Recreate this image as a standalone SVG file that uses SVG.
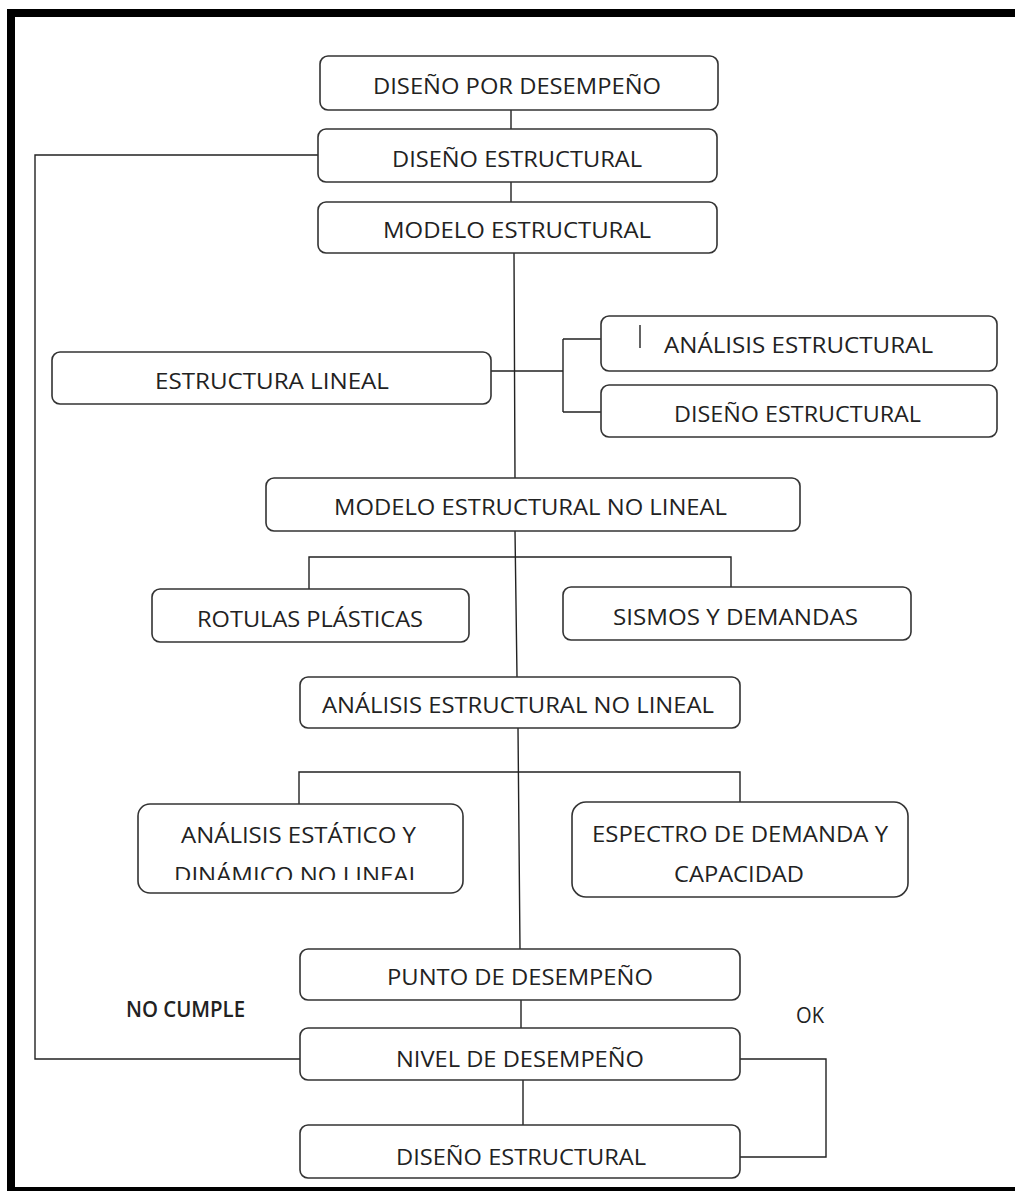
<svg xmlns="http://www.w3.org/2000/svg" width="1015" height="1191" viewBox="0 0 1015 1191">
<style>
.box{fill:#fff;stroke:#333;stroke-width:1.6}
.t{font-family:"Open Sans","Liberation Sans",sans-serif;font-size:22px;fill:#222}
.c{fill:none;stroke:#222;stroke-width:1.4}
.brd{fill:#000}
</style>
<defs>
<clipPath id="clipEst"><rect x="138" y="804" width="325" height="76"/></clipPath>
</defs>
<g id="frame">
<rect class="brd" x="7" y="9" width="1008" height="8"/>
<rect class="brd" x="7" y="9" width="8" height="1182"/>
<rect class="brd" x="7" y="1187" width="1008" height="4"/>
</g>
<g id="connectors">
<path class="c" d="M511 110V129M511 182V202M514 253L515 478M515 531L517 677M518 728L520 949M521 1000V1028M523 1080V1125"/>
<path class="c" d="M300 1059H35V155H318"/>
<path class="c" d="M491 371H563M563 339V412M563 339H601M563 412H601"/>
<path class="c" d="M309 589V557H731V587"/>
<path class="c" d="M299 804V772H740V802"/>
<path class="c" d="M740 1059H826V1157H740"/>
</g>
<g id="n1"><rect class="box" x="320" y="56" width="398" height="54" rx="8"/><text class="t" x="373" y="94" textLength="288" lengthAdjust="spacingAndGlyphs">DISEÑO POR DESEMPEÑO</text></g>
<g id="n2"><rect class="box" x="318" y="129" width="399" height="53" rx="8"/><text class="t" x="392" y="167" textLength="250" lengthAdjust="spacingAndGlyphs">DISEÑO ESTRUCTURAL</text></g>
<g id="n3"><rect class="box" x="318" y="202" width="399" height="51" rx="8"/><text class="t" x="383" y="238" textLength="268" lengthAdjust="spacingAndGlyphs">MODELO ESTRUCTURAL</text></g>
<g id="n4"><rect class="box" x="52" y="352" width="439" height="52" rx="8"/><text class="t" x="155" y="389" textLength="234" lengthAdjust="spacingAndGlyphs">ESTRUCTURA LINEAL</text></g>
<g id="n5"><rect class="box" x="601" y="316" width="396" height="55" rx="8"/><line class="c" x1="640" y1="325" x2="640" y2="348"/><text class="t" x="664" y="353" textLength="269" lengthAdjust="spacingAndGlyphs">ANÁLISIS ESTRUCTURAL</text></g>
<g id="n6"><rect class="box" x="601" y="385" width="396" height="52" rx="8"/><text class="t" x="674" y="422" textLength="247" lengthAdjust="spacingAndGlyphs">DISEÑO ESTRUCTURAL</text></g>
<g id="n7"><rect class="box" x="266" y="478" width="534" height="53" rx="8"/><text class="t" x="334" y="515" textLength="393" lengthAdjust="spacingAndGlyphs">MODELO ESTRUCTURAL NO LINEAL</text></g>
<g id="n8"><rect class="box" x="152" y="589" width="317" height="53" rx="8"/><text class="t" x="197" y="627" textLength="226" lengthAdjust="spacingAndGlyphs">ROTULAS PLÁSTICAS</text></g>
<g id="n9"><rect class="box" x="563" y="587" width="348" height="53" rx="8"/><text class="t" x="613" y="625" textLength="245" lengthAdjust="spacingAndGlyphs">SISMOS Y DEMANDAS</text></g>
<g id="n10"><rect class="box" x="300" y="677" width="440" height="51" rx="8"/><text class="t" x="322" y="713" textLength="392" lengthAdjust="spacingAndGlyphs">ANÁLISIS ESTRUCTURAL NO LINEAL</text></g>
<g id="n11"><rect class="box" x="138" y="804" width="325" height="89" rx="12"/><text class="t" x="181" y="843" textLength="235" lengthAdjust="spacingAndGlyphs">ANÁLISIS ESTÁTICO Y</text><text class="t" clip-path="url(#clipEst)" x="174" y="883" textLength="247" lengthAdjust="spacingAndGlyphs">DINÁMICO  NO LINEAL</text></g>
<g id="n12"><rect class="box" x="572" y="802" width="336" height="95" rx="14"/><text class="t" x="592" y="842" textLength="296" lengthAdjust="spacingAndGlyphs">ESPECTRO DE DEMANDA Y</text><text class="t" x="674" y="882" textLength="130" lengthAdjust="spacingAndGlyphs">CAPACIDAD</text></g>
<g id="n13"><rect class="box" x="300" y="949" width="440" height="51" rx="8"/><text class="t" x="387" y="985" textLength="266" lengthAdjust="spacingAndGlyphs">PUNTO DE DESEMPEÑO</text></g>
<g id="n14"><rect class="box" x="300" y="1028" width="440" height="52" rx="8"/><text class="t" x="396" y="1067" textLength="248" lengthAdjust="spacingAndGlyphs">NIVEL DE DESEMPEÑO</text></g>
<g id="n15"><rect class="box" x="300" y="1125" width="440" height="53" rx="8"/><text class="t" x="396" y="1165" textLength="250" lengthAdjust="spacingAndGlyphs">DISEÑO ESTRUCTURAL</text></g>
<g id="labels">
<text class="t" x="126" y="1017" font-size="18" font-weight="600" textLength="119" lengthAdjust="spacingAndGlyphs">NO CUMPLE</text>
<text class="t" x="796" y="1023" font-size="20" textLength="28" lengthAdjust="spacingAndGlyphs">OK</text>
</g>
</svg>
